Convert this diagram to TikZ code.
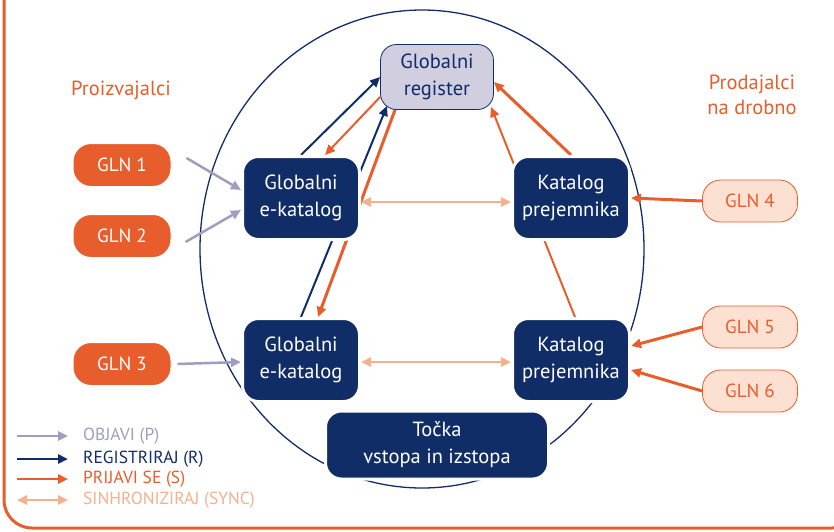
\documentclass[tikz,border=0pt]{standalone}
\usepackage{fontspec}
\setmainfont{PT Sans}
\usepackage{xcolor}
\usetikzlibrary{arrows.meta,positioning,backgrounds}

\definecolor{navy}{RGB}{16,45,104}
\definecolor{gsorange}{RGB}{232,93,44}
\definecolor{peach}{RGB}{252,225,211}
\definecolor{peachline}{RGB}{245,176,140}
\definecolor{lilac}{RGB}{209,206,224}
\definecolor{lilacline}{RGB}{160,157,192}

\begin{document}
\begin{tikzpicture}[x=1pt,y=1pt,>={Triangle[length=10pt,width=9pt]},node distance=270pt,
    darknode/.style={rectangle, rounded corners=16pt, fill=navy, draw=white, line width=3pt, text=white,
                     minimum width=117pt, minimum height=83pt, align=center, font=\fontsize{20.5}{27}\selectfont},
    regnode/.style={rectangle, rounded corners=16pt, fill=lilac, draw=navy, line width=0.8pt, text=navy,
                    minimum width=113pt, minimum height=65pt, align=center, font=\fontsize{20.5}{27}\selectfont},
    glnout/.style={rectangle, rounded corners=18pt, fill=gsorange, draw=white, line width=1pt, text=white,
                   minimum width=98pt, minimum height=43pt, font=\fontsize{19}{22}\selectfont},
    glnin/.style={rectangle, rounded corners=18pt, fill=peach, draw=gsorange, line width=0.8pt, text=gsorange,
                  minimum width=95pt, minimum height=42pt, font=\fontsize{19}{22}\selectfont},
    grouplabel/.style={text=gsorange, align=center, font=\fontsize{20.5}{25}\selectfont},
    pubarrow/.style={->, lilacline, line width=2.5pt},
    regarrow/.style={->, navy, line width=2pt},
    subarrow/.style={->, gsorange, line width=2pt},
    subthick/.style={->, gsorange, line width=3pt},
    syncarrow/.style={<->, peachline, line width=2.5pt}]
  \useasboundingbox (0,0) rectangle (834,-531);

  % register and catalogues
  \node[regnode]                             (GR)  at (437,-77)  {Globalni\\register};
  \node[darknode]                            (GE1) at (301,-198) {Globalni\\e-katalog};
  \node[darknode]                            (KP1) [right of=GE1] {Katalog\\prejemnika};
  \node[darknode, node distance=162pt]       (GE2) [below of=GE1] {Globalni\\e-katalog};
  \node[darknode]                            (KP2) [right of=GE2] {Katalog\\prejemnika};
  \node[darknode, minimum width=223pt, minimum height=68pt] (TV) at (437,-445) {Točka\\vstopa in izstopa};

  % trading partners
  \node[grouplabel]                          (prod) at (121,-90)  {Proizvajalci};
  \node[grouplabel]                          (ret)  at (752,-95)  {Prodajalci\\na drobno};
  \node[glnout]                              (G1) at (122,-165) {GLN 1};
  \node[glnout, node distance=71pt]          (G2) [below of=G1] {GLN 2};
  \node[glnout, node distance=128pt]         (G3) [below of=G2] {GLN 3};
  \node[glnin]                               (G4) at (750,-201) {GLN 4};
  \node[glnin]                               (G5) at (750,-327) {GLN 5};
  \node[glnin, node distance=64pt]           (G6) [below of=G5] {GLN 6};

  % legend
  \foreach \y/\sty/\col/\txt [count=\i] in {436/pubarrow/lilacline/OBJAVI (P), 459/regarrow/navy/REGISTRIRAJ (R),
                                            479/subarrow/gsorange/PRIJAVI SE (S), 500/syncarrow/peachline/SINHRONIZIRAJ (SYNC)} {
    \coordinate (leg\i) at (17,-\y);
    \node[anchor=west, text=\col, inner sep=0pt, font=\fontsize{17.5}{19}\selectfont] (legtxt\i) at (83,-\y) {\txt};
    \draw[\sty, line width=2.5pt] (leg\i) -- ([xshift=-15pt]legtxt\i.west);
  }

  \begin{scope}[on background layer]
    \draw[gsorange, line width=3pt, rounded corners=28pt] (4,20) -- (4,-528) -- (860,-528) -- (860,20);
    \draw[navy, line width=1.3pt] (422,-249) ellipse [x radius=222, y radius=239];

    \draw[pubarrow]  ([xshift=15pt,yshift=7pt]G1.east)  -- ([yshift=8pt]GE1.west);
    \draw[pubarrow]  ([xshift=14pt,yshift=-6pt]G2.east) -- ([yshift=-12pt]GE1.west);
    \draw[pubarrow]  ([xshift=6pt]G3.east)              -- ([yshift=-2pt]GE2.west);

    \draw[regarrow]  (GE1.north) -- (GR.west);
    \draw[regarrow]  (GE2.north) -- ([xshift=-50pt,yshift=4pt]GR.south);

    \draw[subarrow]  ([yshift=-20pt]GR.west)   -- ([xshift=24pt]GE1.north);
    \draw[subthick]  ([xshift=-42pt]GR.south)  -- ([xshift=17pt]GE2.north);
    \draw[subthick]  (KP1.north)               -- ([yshift=-5pt]GR.east);
    \draw[subarrow]  ([xshift=4pt]KP2.north)   -- ([xshift=54pt,yshift=3pt]GR.south);

    \draw[subthick]  (G4.west) -- (KP1.east);
    \draw[subthick]  (G5.west) -- ([yshift=14pt]KP2.east);
    \draw[subthick]  (G6.west) -- ([yshift=-10pt]KP2.east);

    \draw[syncarrow] ([yshift=-4pt]GE1.east) -- ([yshift=-4pt]KP1.west);
    \draw[syncarrow] ([yshift=-2pt]GE2.east) -- ([yshift=-2pt]KP2.west);
  \end{scope}
\end{tikzpicture}
\end{document}
